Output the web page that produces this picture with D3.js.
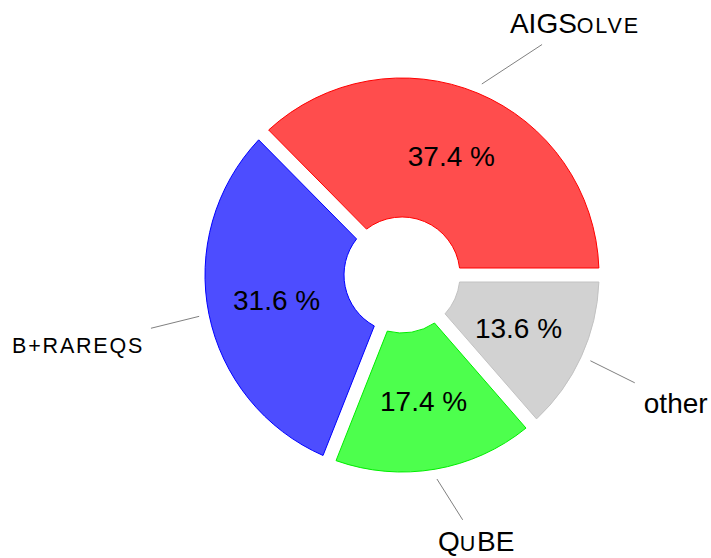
<!DOCTYPE html>
<html>
<head>
<meta charset="utf-8">
<script src="https://cdn.jsdelivr.net/npm/d3@7"></script>
<style>
    body { margin: 0; background: #fff; }
    text { font-family: "Liberation Sans", Arial, Helvetica, sans-serif; fill: #000; }
</style>
</head>
<body>
<svg id="chart" width="711" height="558"></svg>
<script>
// solver shares (percent)
const solvers = ['AIGSolve', 'B+RAREQS', 'QuBE', 'other'];
const shares = [37.4, 31.6, 17.4, 13.6];
// label pieces: [text, small caps?]
const nameParts = [
    [['AIGS', false], ['olve', true]],
    [['b+rareqs', true]],
    [['Q', false], ['u', true], ['BE', false]],
    [['other', false]]
];
const fills = ['#ff4d4d', '#4d4dff', '#4dff4d', '#d2d2d2'];
const strokes = ['#ff0000', '#0000ff', '#00ee00', '#c2c2c2'];

// layout
const center = {x: 402, y: 275};
const rOuter = 197, rInner = 58;
const gapHalf = 7, padR = 200;
const pctRadius = 128;
const pinStart = 207;
// outer label centres: angle (deg, counter-clockwise from east), radius
const labelAngle = [55.6, 191.9, 285.6, 335];
const labelRadius = [306, 331, 276, 302];

const svg = d3.select('#chart');
const g = svg.append('g')
    .attr('transform', `translate(${center.x}, ${center.y})`);

const pie = d3.pie()
    .sort(null)
    .value(d => d)
    .startAngle(Math.PI / 2)
    .endAngle(Math.PI / 2 - 2 * Math.PI);

const arcs = pie(shares);

const arc = d3.arc()
    .innerRadius(rInner)
    .outerRadius(rOuter)
    .padRadius(padR)
    .padAngle(2 * Math.asin(gapHalf / padR));

g.selectAll('.slice')
    .data(arcs)
    .join('path')
    .classed('slice', true)
    .attr('d', arc)
    .attr('fill', (d, i) => fills[i])
    .attr('stroke', (d, i) => strokes[i])
    .attr('stroke-width', 1);

// d3 angle -> point
let polar = (a, r) => [r * Math.sin(a), -r * Math.cos(a)];
let midAngle = d => (d.startAngle + d.endAngle) / 2;

g.selectAll('.pct')
    .data(arcs)
    .join('text')
    .classed('pct', true)
    .attr('x', d => polar(midAngle(d), pctRadius)[0])
    .attr('y', d => polar(midAngle(d), pctRadius)[1])
    .attr('text-anchor', 'middle')
    .attr('dominant-baseline', 'central')
    .style('font-size', '28px')
    .text(d => d3.format('.1f')(d.value) + ' %');

// outer labels (alphabetic baseline so small caps sit on the same line)
let labels = g.selectAll('.name')
    .data(arcs)
    .join('text')
    .classed('name', true)
    .attr('x', (d, i) => polar((90 - labelAngle[i]) * Math.PI / 180, labelRadius[i])[0])
    .attr('y', (d, i) => polar((90 - labelAngle[i]) * Math.PI / 180, labelRadius[i])[1] + 10)
    .attr('text-anchor', 'middle')
    .style('font-size', '28px');

labels.each(function(d, i){
    let t = d3.select(this);
    nameParts[i].forEach(p => {
        t.append('tspan')
            .text(p[1] ? p[0].toUpperCase() : p[0])
            .style('font-size', p[1] ? '21.5px' : '28px')
            .style('letter-spacing', p[1] ? '1.8px' : null);
    });
});

// leader lines: from slice toward label centre, stopped at padded label box
labels.each(function(d, i){
    let bb = this.getBBox();
    let pad = 9;
    let cx = bb.x + bb.width / 2, cy = bb.y + bb.height / 2;
    let [sx, sy] = polar(midAngle(d), pinStart);
    let dx = cx - sx, dy = cy - sy;
    let hw = bb.width / 2 + pad, hh = bb.height / 2 + pad - 3;
    let s = Math.min(dx !== 0 ? hw / Math.abs(dx) : Infinity, dy !== 0 ? hh / Math.abs(dy) : Infinity);
    g.append('line')
        .classed('pin', true)
        .attr('x1', sx)
        .attr('y1', sy)
        .attr('x2', cx - dx * s)
        .attr('y2', cy - dy * s)
        .attr('stroke', '#808080')
        .attr('stroke-width', 1);
});
</script>
</body>
</html>
